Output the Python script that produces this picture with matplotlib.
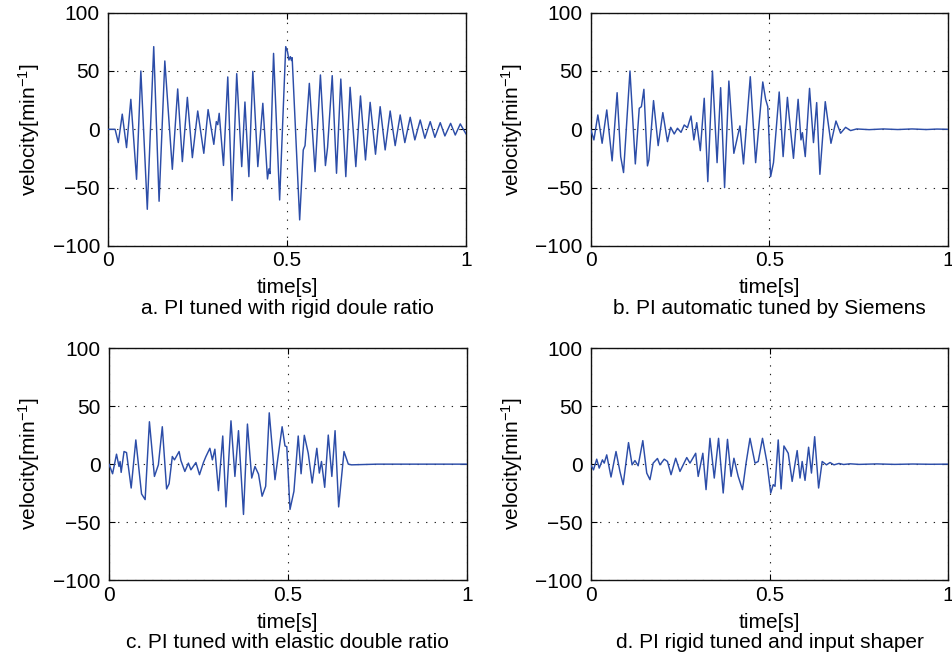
import matplotlib
matplotlib.use("Agg")
import matplotlib.pyplot as plt

plt.rcParams['font.family'] = ['Liberation Sans', 'DejaVu Sans']
plt.rcParams['mathtext.default'] = 'regular'

# Velocity response of the four controller settings: turning points of each trace
time_a = [0.0, 0.019, 0.028, 0.039, 0.051, 0.063, 0.079, 0.091, 0.109, 0.127, 0.142, 0.158,
          0.179, 0.194, 0.207, 0.221, 0.235, 0.250, 0.267, 0.279, 0.295, 0.302, 0.306, 0.310,
          0.322, 0.334, 0.346, 0.359, 0.373, 0.382, 0.393, 0.404, 0.418, 0.432, 0.445, 0.449,
          0.452, 0.462, 0.479, 0.496, 0.501, 0.505, 0.509, 0.512, 0.514, 0.535, 0.545, 0.550,
          0.562, 0.578, 0.593, 0.607, 0.613, 0.626, 0.638, 0.650, 0.664, 0.676, 0.692, 0.705,
          0.719, 0.732, 0.747, 0.760, 0.774, 0.788, 0.802, 0.816, 0.829, 0.844, 0.857, 0.872,
          0.885, 0.900, 0.913, 0.928, 0.941, 0.957, 0.970, 0.984, 1.0]
vel_a = [0.0, 0.0, -11.4, 13.0, -15.7, 25.7, -42.9, 50.0, -68.6, 70.9, -61.7, 58.6,
         -34.3, 34.6, -27.7, 27.4, -24.3, 15.7, -20.6, 16.9, -12.9, 6.6, 4.0, 13.7,
         -31.0, 44.9, -61.1, 47.7, -32.0, 23.4, -40.6, 49.7, -32.0, 22.3, -42.6, -34.0,
         -38.0, 65.1, -60.6, 70.9, 66.6, 59.4, 62.3, 59.0, 61.4, -77.7, -17.7, -14.0,
         39.4, -36.3, 46.6, -31.1, -15.5, 46.0, -37.7, 43.1, -40.6, 36.0, -32.0, 28.6,
         -26.3, 23.1, -21.4, 19.4, -17.7, 15.7, -14.0, 12.3, -11.4, 10.3, -9.1, 8.0,
         -7.7, 6.6, -6.9, 5.7, -5.7, 5.1, -4.9, 4.6, -4.0]

time_b = [0.0, 0.009, 0.020, 0.025, 0.032, 0.045, 0.060, 0.074, 0.084, 0.092, 0.110, 0.125,
          0.136, 0.142, 0.149, 0.159, 0.163, 0.176, 0.189, 0.202, 0.215, 0.224, 0.234, 0.243,
          0.253, 0.262, 0.271, 0.281, 0.289, 0.297, 0.307, 0.318, 0.328, 0.341, 0.354, 0.364,
          0.375, 0.387, 0.401, 0.418, 0.428, 0.447, 0.462, 0.482, 0.490, 0.496, 0.504, 0.512,
          0.528, 0.539, 0.551, 0.556, 0.568, 0.581, 0.589, 0.593, 0.601, 0.613, 0.624, 0.633,
          0.642, 0.657, 0.673, 0.687, 0.700, 0.714, 0.728, 0.745, 0.78, 0.82, 0.86, 0.90,
          0.94, 0.97, 1.0]
vel_b = [0.0, -9.1, 12.3, 2.3, -12.0, 16.6, -27.1, 31.4, -23.4, -37.1, 50.0, -29.7,
         18.0, 19.4, 34.3, -31.4, -26.3, 24.6, -14.0, 14.3, -10.6, 1.7, -4.0, 0.9,
         -2.6, 3.7, 1.4, 11.4, -9.1, 5.7, -18.3, 26.6, -44.9, 50.0, -28.6, 35.7,
         -50.0, 41.4, -20.6, 2.9, -29.7, 45.1, -28.6, 40.6, 25.7, 19.4, -40.6, -28.6,
         32.0, -23.4, 27.4, 10.9, -24.9, 25.7, -9.1, -2.9, -23.4, 35.1, -11.4, 22.9,
         -38.6, 23.7, -12.0, 7.1, -3.4, 1.7, -1.1, 0.3, -0.3, 0.3, -0.2, 0.3,
         -0.2, 0.2, 0.0]

time_c = [0.0, 0.010, 0.021, 0.028, 0.031, 0.034, 0.042, 0.049, 0.062, 0.075, 0.091, 0.101,
          0.113, 0.127, 0.138, 0.149, 0.161, 0.168, 0.177, 0.183, 0.196, 0.201, 0.212, 0.222,
          0.229, 0.243, 0.253, 0.264, 0.271, 0.282, 0.289, 0.296, 0.306, 0.318, 0.327, 0.341,
          0.352, 0.362, 0.376, 0.387, 0.399, 0.408, 0.418, 0.428, 0.438, 0.448, 0.464, 0.484,
          0.492, 0.497, 0.506, 0.517, 0.529, 0.537, 0.546, 0.557, 0.568, 0.581, 0.588, 0.594,
          0.603, 0.613, 0.623, 0.632, 0.642, 0.657, 0.669, 0.678, 0.75, 0.85, 0.95, 1.0]
vel_c = [0.0, -8.3, 8.6, -2.0, 2.3, -7.1, 10.9, 10.0, -20.6, 20.9, -25.7, -30.6,
         36.6, -10.6, -0.6, 32.3, -21.4, -16.9, 6.6, 3.7, 10.9, 3.1, -6.3, 0.9,
         -4.9, 1.4, -9.1, 1.4, 6.6, 13.7, 3.7, 12.9, -22.9, 24.3, -36.9, 37.4,
         -10.6, 28.9, -43.4, 34.6, -12.0, -2.0, -8.6, -27.7, -19.1, 44.3, -13.4, 32.3,
         15.7, 15.1, -39.1, -23.4, 24.3, -8.3, 24.9, 9.4, -16.3, 13.7, -7.7, 2.3,
         -20.0, 25.1, -10.6, 28.9, -36.9, 10.9, 0.0, -0.6, 0.0, 0.0, 0.0, 0.0]

time_d = [0.0, 0.007, 0.016, 0.023, 0.032, 0.037, 0.044, 0.056, 0.070, 0.081, 0.090, 0.105,
          0.115, 0.123, 0.132, 0.145, 0.156, 0.165, 0.174, 0.186, 0.193, 0.205, 0.214, 0.224,
          0.237, 0.249, 0.268, 0.277, 0.293, 0.300, 0.313, 0.322, 0.333, 0.345, 0.357, 0.370,
          0.382, 0.392, 0.400, 0.412, 0.424, 0.434, 0.445, 0.459, 0.468, 0.480, 0.492, 0.503,
          0.510, 0.515, 0.524, 0.532, 0.540, 0.552, 0.563, 0.577, 0.585, 0.591, 0.599, 0.609,
          0.617, 0.626, 0.637, 0.647, 0.659, 0.669, 0.680, 0.694, 0.707, 0.725, 0.75, 0.80,
          0.85, 0.90, 0.95, 1.0]
vel_d = [-0.9, -4.9, 4.3, -3.4, 3.7, 0.9, 8.0, -11.1, 10.9, -6.3, -17.7, 18.6,
         -0.6, 3.1, -1.4, 20.3, -7.7, -13.4, 0.9, 4.9, -0.6, 4.3, 2.3, -9.1,
         5.1, -6.3, 5.7, 0.9, 9.4, -10.6, 9.4, -22.0, 22.3, -12.0, 22.3, -24.9,
         21.4, -10.6, 5.1, -10.6, -22.0, 0.9, 22.3, 0.9, 2.3, 22.3, 2.3, -24.9,
         -17.7, -19.1, 20.9, -21.4, 15.7, 9.4, -14.9, 11.7, -12.0, 2.3, -14.0, 14.6,
         -7.7, 23.7, -20.6, 2.3, -0.6, 1.4, -0.6, 0.6, -0.3, 0.3, -0.2, 0.2,
         -0.2, 0.1, -0.1, 0.0]

captions = ["a. PI tuned with rigid doule ratio",
            "b. PI automatic tuned by Siemens",
            "c. PI tuned with elastic double ratio",
            "d. PI rigid tuned and input shaper"]
x_ticks = [0, 0.5, 1]
x_tick_labels = ["0", "0.5", "1"]
y_ticks = [-100, -50, 0, 50, 100]
y_tick_labels = ["\u2212100", "\u221250", "0", "50", "100"]

W, H = 952, 654
fig = plt.figure(figsize=(W / 100, H / 100), dpi=100)

# axes boxes in pixels: left, top, right, bottom
boxes = [(108.3, 12.7, 466.0, 245.9),
         (590.7, 12.7, 947.7, 245.9),
         (109.0, 348.3, 466.7, 580.0),
         (591.0, 348.3, 948.3, 580.0)]
series = [(time_a, vel_a), (time_b, vel_b), (time_c, vel_c), (time_d, vel_d)]
ylabel_x = [29, 512, 29, 512]

fs = 15
line_color = '#2c4da8'

for i, ((l, t, r, b), (tt, vv)) in enumerate(zip(boxes, series)):
    ax = fig.add_axes([l / W, 1 - b / H, (r - l) / W, (b - t) / H])
    ax.plot(tt, vv, color=line_color, lw=1.05, zorder=3,
            solid_joinstyle='round', solid_capstyle='round')
    ax.set_xlim(0, 1)
    ax.set_ylim(-100, 100)
    ax.set_xticks(x_ticks)
    ax.set_xticklabels(x_tick_labels)
    ax.set_yticks(y_ticks)
    ax.set_yticklabels(y_tick_labels)
    ax.tick_params(direction='in', length=4, width=0.8, top=True, right=True,
                   labelsize=fs, colors='black')
    ax.tick_params(axis='x', pad=4)
    ax.tick_params(axis='y', pad=6)
    ax.grid(True, color='#222222', linestyle=(0, (1.2, 6.5)), linewidth=0.8)
    for sp in ax.spines.values():
        sp.set_linewidth(1.0)
        sp.set_color('#111111')

    cx = (l + r) / 2
    fig.text(cx / W, 1 - (b + 42) / H, "time[s]", ha='center', va='center', fontsize=fs)
    fig.text(cx / W, 1 - (b + 63) / H, captions[i], ha='center', va='center', fontsize=fs)
    fig.text(ylabel_x[i] / W, 1 - ((t + b) / 2) / H, "velocity[min$^{-1}$]",
             rotation=90, ha='center', va='center', fontsize=fs)

fig.savefig("out.png", dpi=100)
